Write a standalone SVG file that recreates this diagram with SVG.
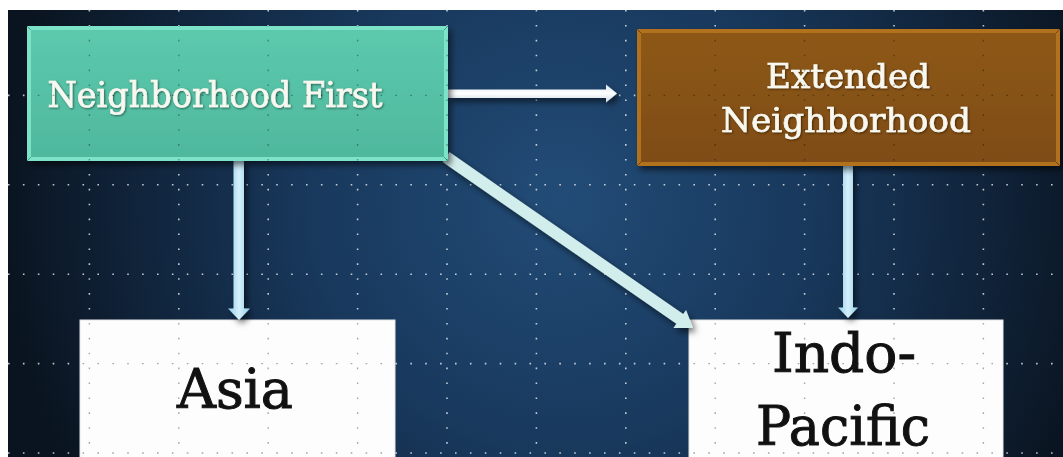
<svg xmlns="http://www.w3.org/2000/svg" width="1063" height="457" viewBox="0 0 1063 457">
  <defs>
    <radialGradient id="bg" cx="560" cy="200" r="560" gradientUnits="userSpaceOnUse">
      <stop offset="0" stop-color="#224c77"/>
      <stop offset="0.45" stop-color="#18385c"/>
      <stop offset="0.8" stop-color="#0f2136"/>
      <stop offset="1" stop-color="#0a1420"/>
    </radialGradient>
    <linearGradient id="vshaft" x1="0" y1="0" x2="1" y2="0">
      <stop offset="0" stop-color="#8ecbe6"/>
      <stop offset="0.5" stop-color="#d6f0fb"/>
      <stop offset="1" stop-color="#8ecbe6"/>
    </linearGradient>
    <linearGradient id="hshaft" x1="0" y1="0" x2="0" y2="1">
      <stop offset="0" stop-color="#dde8f2"/>
      <stop offset="0.5" stop-color="#ffffff"/>
      <stop offset="1" stop-color="#c9d8e6"/>
    </linearGradient>
    <linearGradient id="tealg" x1="0" y1="0" x2="0" y2="1">
      <stop offset="0" stop-color="#5cc9ad"/>
      <stop offset="1" stop-color="#4fb89d"/>
    </linearGradient>
    <linearGradient id="browng" x1="0" y1="0" x2="0" y2="1">
      <stop offset="0" stop-color="#8d5818"/>
      <stop offset="1" stop-color="#7f4c12"/>
    </linearGradient>
    <filter id="sh" x="-20%" y="-20%" width="140%" height="140%">
      <feDropShadow dx="3" dy="4" stdDeviation="3" flood-color="#000" flood-opacity="0.55"/>
    </filter>
    <filter id="tsh" x="-10%" y="-30%" width="120%" height="160%">
      <feDropShadow dx="1" dy="1" stdDeviation="0.8" flood-color="#000" flood-opacity="0.5"/>
    </filter>
    <style>
      .grid { fill: none; stroke: #ffffff; stroke-width: 1.6; stroke-dasharray: 1.6 13.3; opacity: 0.75; }
      .gridd { fill: none; stroke: #000000; stroke-width: 1.4; stroke-dasharray: 1.6 13.3; opacity: 0.35; }
      .lbl { font-family: "DejaVu Serif", "Liberation Serif", serif; }
      .light { fill: #f8f8f0; stroke: #f8f8f0; stroke-width: 0.7; }
      .dark { fill: #111111; stroke: #111111; stroke-width: 1; }
    </style>
    <clipPath id="boxclip">
      <rect x="27" y="26" width="421" height="135"/>
      <rect x="637" y="29" width="423" height="137"/>
      <rect x="80" y="320" width="315" height="137"/>
      <rect x="689" y="320" width="314" height="137"/>
    </clipPath>
    <path id="gridpath" d="M89.4 10V457 M178.8 10V457 M268.2 10V457 M357.6 10V457 M447 10V457 M536.4 10V457 M625.8 10V457 M715.2 10V457 M804.6 10V457 M894 10V457 M983.4 10V457 M8 95.4H1063 M8 184.8H1063 M8 274.2H1063 M8 363.6H1063 M8 453H1063"/>
  </defs>

  <rect x="0" y="0" width="1063" height="457" fill="#ffffff"/>
  <rect x="8" y="10" width="1055" height="447" fill="url(#bg)"/>

  <g id="grid">
    <use href="#gridpath" class="grid"/>
  </g>

  <g id="node-asia">
    <rect x="80" y="320" width="315" height="140" fill="#fdfdfd" stroke="#e6e6e6" stroke-width="1"/>
    <text class="lbl dark" x="235" y="408" font-size="55" text-anchor="middle" textLength="116" lengthAdjust="spacingAndGlyphs">Asia</text>
  </g>

  <g id="node-indo-pacific">
    <rect x="689" y="320" width="314" height="140" fill="#fdfdfd" stroke="#e6e6e6" stroke-width="1"/>
    <text class="lbl dark" x="844" y="372" font-size="55" text-anchor="middle" textLength="144" lengthAdjust="spacingAndGlyphs">Indo-</text>
    <text class="lbl dark" x="843" y="445" font-size="55" text-anchor="middle" textLength="174" lengthAdjust="spacingAndGlyphs">Pacific</text>
  </g>

  <g id="connectors" filter="url(#sh)">
    <path d="M233.5 160H244V308.5H250L239 320L228 308.5H233.5Z" fill="url(#vshaft)"/>
    <path d="M843 165H853V307.5H858L848 318L838 307.5H843Z" fill="url(#vshaft)"/>
    <path d="M448 89.5H606V84.5L617 93.5L606 102.5V98H448Z" fill="url(#hshaft)"/>
    <polygon points="449.4,152.1 683.2,314 686.1,309.9 693,328 673.5,327.9 676.4,323.8 442.6,161.9" fill="#d2eeec"/>
  </g>

  <g id="node-neighborhood-first" filter="url(#sh)">
    <rect x="27" y="26" width="421" height="135" fill="#7de3c8"/>
    <rect x="31" y="30" width="413" height="127" fill="url(#tealg)"/>
    <path d="M27 26L31 30M448 26L444 30M27 161L31 157M448 161L444 157" stroke="#4aa68d" stroke-width="1"/>
    <text class="lbl light" x="215" y="107" font-size="36" text-anchor="middle" textLength="335" lengthAdjust="spacingAndGlyphs" filter="url(#tsh)">Neighborhood First</text>
  </g>

  <g id="node-extended-neighborhood" filter="url(#sh)">
    <rect x="637" y="29" width="423" height="137" fill="#b2711f"/>
    <rect x="641" y="33" width="415" height="129" fill="url(#browng)"/>
    <path d="M637 29L641 33M1060 29L1056 33M637 166L641 162M1060 166L1056 162" stroke="#6e420e" stroke-width="1"/>
    <text class="lbl light" x="848" y="88" font-size="34" text-anchor="middle" textLength="164" lengthAdjust="spacingAndGlyphs" filter="url(#tsh)">Extended</text>
    <text class="lbl light" x="846" y="132" font-size="34" text-anchor="middle" textLength="250" lengthAdjust="spacingAndGlyphs" filter="url(#tsh)">Neighborhood</text>
  </g>

  <g id="grid-over" clip-path="url(#boxclip)">
    <use href="#gridpath" class="gridd"/>
  </g>
</svg>
